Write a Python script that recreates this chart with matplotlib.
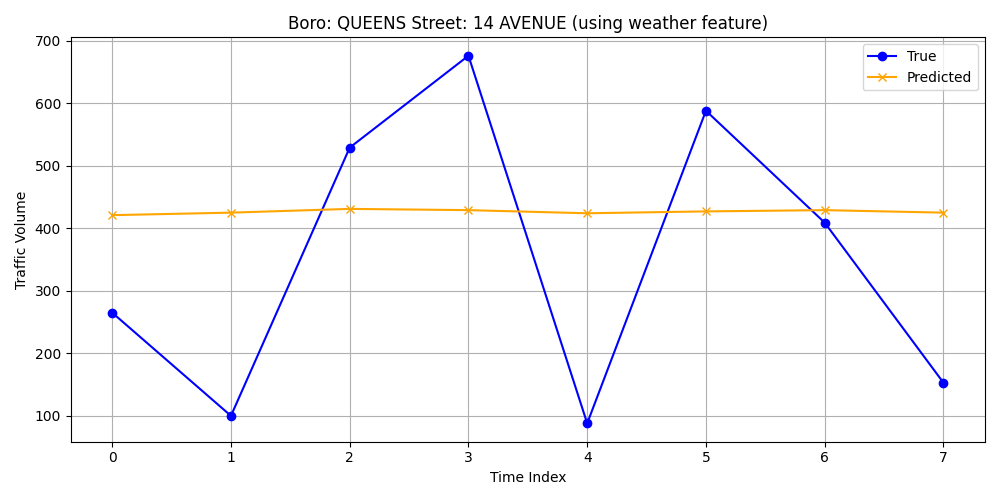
import matplotlib
matplotlib.use("Agg")
import matplotlib.pyplot as plt

time_index = [0, 1, 2, 3, 4, 5, 6, 7]
true_vals = [265, 100, 529, 676, 88, 588, 409, 153]
pred_vals = [421, 425, 431, 429, 424, 427, 429, 425]

fig, ax = plt.subplots(figsize=(10, 5), dpi=100)
ax.plot(time_index, true_vals, marker="o", color="blue", label="True")
ax.plot(time_index, pred_vals, marker="x", color="orange", label="Predicted")
ax.set_title("Boro: QUEENS Street: 14 AVENUE (using weather feature)")
ax.set_xlabel("Time Index")
ax.set_ylabel("Traffic Volume")
ax.legend()
ax.grid(True)
fig.tight_layout()
fig.savefig("out.png")
